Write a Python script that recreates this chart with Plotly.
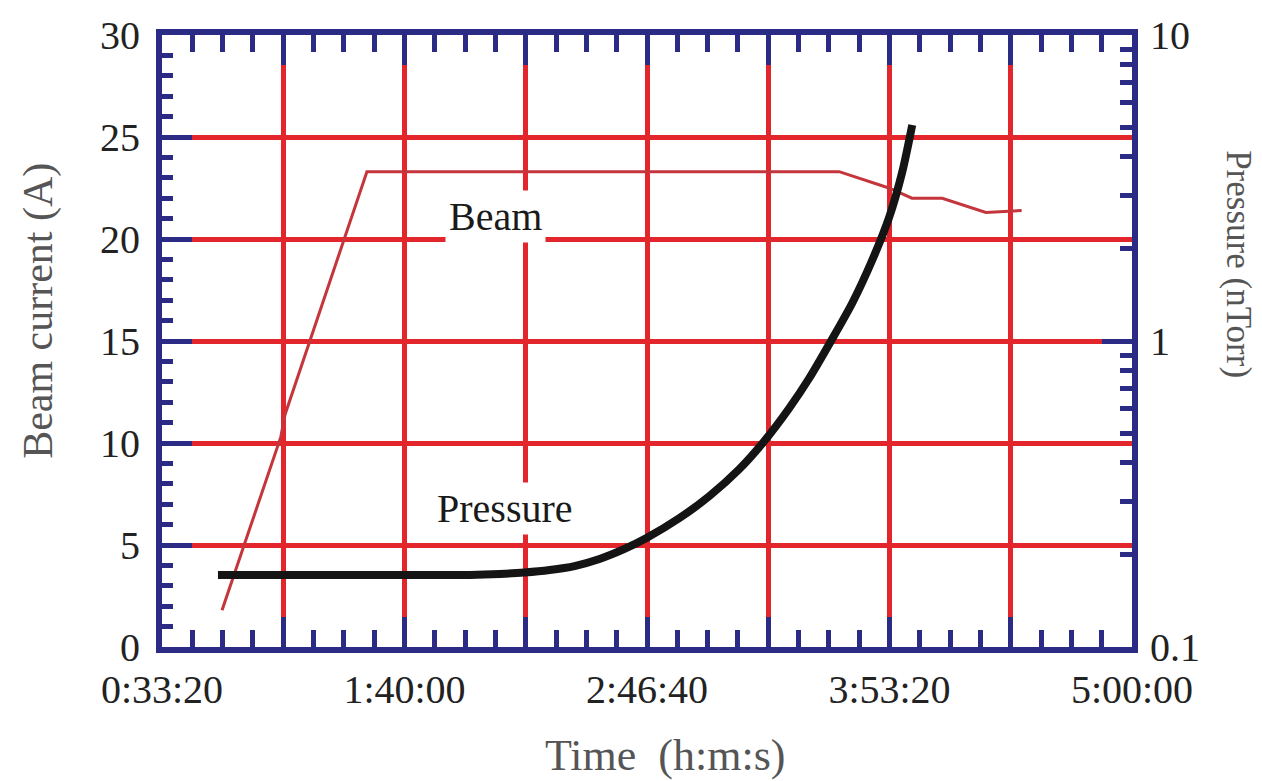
import plotly.graph_objects as go

# ---- data (time in seconds) ----
beam_t = [2990, 3960, 4030, 5380, 13170, 13990, 14370, 14870, 15590, 16180]
beam_a = [1.8, 10.3, 11.4, 23.3, 23.3, 22.5, 22.0, 22.0, 21.3, 21.4]

press_t = [2923, 7075, 7570, 7981, 8393, 8805, 9217, 9629, 9992, 10536, 11030, 11524,
           11936, 12348, 12678, 13007, 13386, 13716, 13996, 14210, 14375]
press_p = [0.172, 0.172, 0.1732, 0.1752, 0.1785, 0.1839, 0.1939, 0.2091, 0.2271, 0.2639,
           0.3115, 0.3817, 0.4712, 0.604, 0.757, 0.978, 1.331, 1.839, 2.542, 3.567, 5.08]

x_tickvals = [2000, 4000, 6000, 8000, 10000, 12000, 14000, 16000, 18000]
x_ticktext = ["0:33:20", "", "1:40:00", "", "2:46:40", "", "3:53:20", "", "5:00:00"]
y_tickvals = [0, 5, 10, 15, 20, 25, 30]
y2_tickvals = [0.1, 1, 10]
y2_ticktext = ["0.1", "1", "10"]
y2_minor = [0.2, 0.3, 0.4, 0.5, 0.6, 0.7, 0.8, 0.9, 2, 3, 4, 5, 6, 7, 8, 9]

NAVY = "#2b2a84"
GRID = "#e3262c"
FONT = "Liberation Serif"
TITLE_COLOR = "#555555"

fig = go.Figure()
fig.add_trace(go.Scatter(x=beam_t, y=beam_a, mode="lines",
                         line=dict(color="#c4353c", width=3), yaxis="y",
                         showlegend=False, hoverinfo="skip"))
fig.add_trace(go.Scatter(x=press_t, y=press_p, mode="lines",
                         line=dict(color="#141414", width=8, shape="spline", smoothing=0.8),
                         yaxis="y2", showlegend=False, hoverinfo="skip"))

fig.add_annotation(x=7500, y=21.1, xref="x", yref="y", text="Beam", showarrow=False,
                   font=dict(family=FONT, size=40, color="#1a1a1a"),
                   bgcolor="white", borderpad=3)
fig.add_annotation(x=7650, y=6.8, xref="x", yref="y", text="Pressure", showarrow=False,
                   font=dict(family=FONT, size=40, color="#1a1a1a"),
                   bgcolor="white", borderpad=3)
# axis titles
fig.add_annotation(x=1.109, y=0.626, xref="paper", yref="paper", text="Pressure (nTorr)",
                   textangle=90, showarrow=False, xanchor="center", yanchor="middle",
                   font=dict(family=FONT, size=35, color=TITLE_COLOR))
fig.add_annotation(x=-0.128, y=0.549, xref="paper", yref="paper", text="Beam current (A)",
                   textangle=-90, showarrow=False, xanchor="center", yanchor="middle",
                   font=dict(family=FONT, size=42, color=TITLE_COLOR))
fig.add_annotation(x=0.5186, y=-0.1765, xref="paper", yref="paper", text="Time  (h:m:s)",
                   showarrow=False, xanchor="center", yanchor="middle",
                   font=dict(family=FONT, size=44, color=TITLE_COLOR))

fig.update_layout(
    width=1262, height=781,
    margin=dict(l=154, r=138, t=27, b=142),
    paper_bgcolor="white", plot_bgcolor="white",
    font=dict(family=FONT, size=40, color="#222222"),
    xaxis=dict(range=[2000, 18000], tickmode="array", tickvals=x_tickvals,
               ticktext=x_ticktext, showgrid=True, gridcolor=GRID, gridwidth=5,
               zeroline=False, showline=True, linecolor=NAVY, linewidth=6,
               mirror="ticks", ticks="inside", ticklen=30, tickwidth=5, tickcolor=NAVY,
               ticklabelstandoff=2, automargin=False,
               minor=dict(dtick=500, tick0=2000, ticks="inside", ticklen=17,
                          tickwidth=5, tickcolor=NAVY, showgrid=False)),
    yaxis=dict(range=[0, 30], tickmode="array", tickvals=y_tickvals,
               showgrid=True, gridcolor=GRID, gridwidth=5, zeroline=False,
               showline=True, linecolor=NAVY, linewidth=6, mirror=False,
               ticks="inside", ticklen=30, tickwidth=5, tickcolor=NAVY,
               ticklabelstandoff=8, automargin=False,
               minor=dict(dtick=1, tick0=0, ticks="inside", ticklen=11,
                          tickwidth=5, tickcolor=NAVY, showgrid=False)),
    yaxis2=dict(type="log", range=[-1, 1], overlaying="y", side="right",
                tickmode="array", tickvals=y2_tickvals, ticktext=y2_ticktext,
                showgrid=False, zeroline=False, showline=True, linecolor=NAVY,
                linewidth=6, ticks="inside", ticklen=30, tickwidth=5, tickcolor=NAVY,
                ticklabelstandoff=4, automargin=False,
                minor=dict(tickmode="array", tickvals=y2_minor, ticks="inside",
                           ticklen=12, tickwidth=5, tickcolor=NAVY, showgrid=False)),
)

fig.write_html("out.html")
